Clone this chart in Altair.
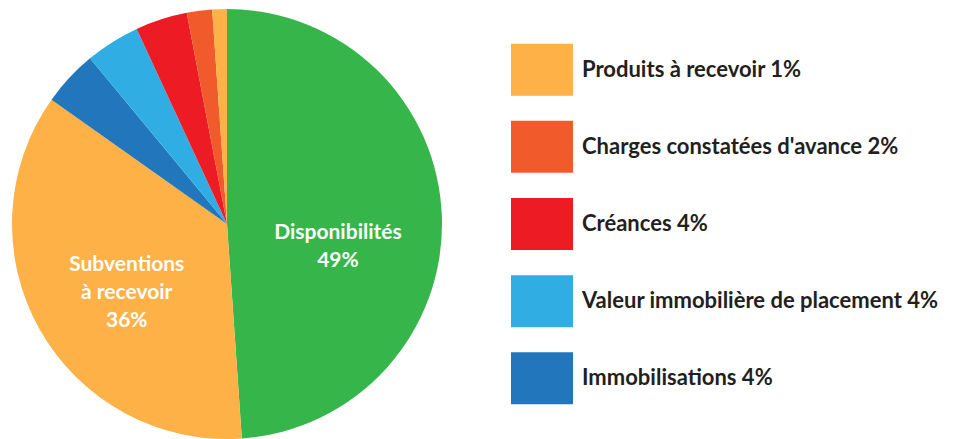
import altair as alt
import pandas as pd

categories = ["Disponibilités", "Subventions à recevoir", "Immobilisations",
              "Valeur immobilière de placement", "Créances",
              "Charges constatées d'avance", "Produits à recevoir"]
values = [48.9, 35.9, 4.2, 4.1, 3.9, 1.9, 1.1]
pct_labels = ["49%", "36%", "4%", "4%", "4%", "2%", "1%"]
slice_labels = ["Disponibilités\n49%", "Subventions\nà recevoir\n36%", "", "", "", "", ""]
colors = ["#36b54a", "#fdb147", "#2176bc", "#30aee3", "#ed1c24", "#f15a2b", "#fdb147"]
legend_order = ["Produits à recevoir", "Charges constatées d'avance", "Créances",
                "Valeur immobilière de placement", "Immobilisations"]

df = pd.DataFrame({
    "category": categories,
    "value": values,
    "pct": pct_labels,
    "label": slice_labels,
    "order": list(range(len(categories))),
})

color_scale = alt.Scale(domain=categories, range=colors)
FONT = "Lato"

base = alt.Chart(df).encode(
    theta=alt.Theta("value:Q", stack=True),
    order=alt.Order("order:Q"),
)

pie = base.mark_arc(outerRadius=215).encode(
    color=alt.Color("category:N", scale=color_scale, legend=None)
)

lab1 = base.transform_calculate(
    t="datum.category == 'Disponibilités' ? datum.label : ''"
).mark_text(radius=113, dy=13, dx=-2, lineBreak="\n", lineHeight=28, font=FONT,
            fontSize=21, fontWeight="bold", color="white").encode(text="t:N")

lab2 = base.transform_calculate(
    t="datum.category == 'Subventions à recevoir' ? datum.label : ''"
).mark_text(radius=115, dy=-15, lineBreak="\n", lineHeight=28, font=FONT,
            fontSize=21, fontWeight="bold", color="white").encode(text="t:N")

pie_chart = alt.layer(pie, lab1, lab2).properties(width=438, height=432)

leg_df = df[df["category"].isin(legend_order)].copy()
leg_df["text"] = leg_df["category"] + " " + leg_df["pct"]

leg_base = alt.Chart(leg_df).encode(
    y=alt.Y("category:N", sort=legend_order, axis=None,
            scale=alt.Scale(type="point", padding=0.8)),
)
leg_sym = leg_base.mark_point(
    shape="M-1,-0.839L1,-0.839L1,0.839L-1,0.839Z", size=3844, filled=True, opacity=1
).encode(
    x=alt.value(42),
    color=alt.Color("category:N", scale=color_scale, legend=None),
)
leg_txt = leg_base.mark_text(
    align="left", baseline="middle", font=FONT, fontSize=22, fontWeight="bold",
    color="#231f20"
).encode(x=alt.value(82), text="text:N")

legend_chart = alt.layer(leg_sym, leg_txt).properties(width=450, height=432)

chart = alt.hconcat(pie_chart, legend_chart, spacing=54).properties(
    padding={"left": 0, "top": 0, "right": 0, "bottom": 0}
).configure_view(stroke=None)

chart.save("out.html", embed_options={"renderer": "svg", "actions": False})
